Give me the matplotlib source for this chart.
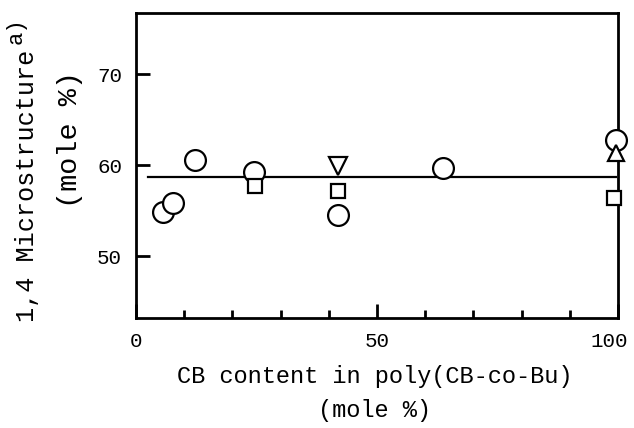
import numpy as np
import matplotlib
matplotlib.use("Agg")
import matplotlib.pyplot as plt
import matplotlib.transforms as mtransforms

plt.rcParams['font.family'] = ['Liberation Mono', 'DejaVu Sans Mono']

# data (x: CB mole %, y: 1,4 content mole %)
circle_x = [5.6, 7.7, 12.2, 24.5, 41.9, 63.7, 99.6]
circle_y = [54.8, 55.8, 60.5, 59.2, 54.5, 59.7, 62.8]
square_x = [24.7, 41.9, 99.2]
square_y = [57.7, 57.1, 56.4]
tri_down_x = [41.9]
tri_down_y = [59.9]
tri_up_x = [99.6]
tri_up_y = [61.3]
fit_x = [2.5, 99.5]
fit_y = [58.7, 58.7]

fig = plt.figure(figsize=(6.34, 4.28), dpi=100)
ax = fig.add_axes([136/634, 1 - 318/428, 482/634, 305/428])

ax.plot(fit_x, fit_y, color='black', lw=1.6, zorder=2)
mk = dict(mfc='white', mec='black', mew=1.6, ls='none', clip_on=False, zorder=5)
ax.plot(circle_x, circle_y, marker='o', ms=15, **mk)
ax.plot(square_x, square_y, marker='s', ms=9.5, **mk)
ax.plot(tri_down_x, tri_down_y, marker='v', ms=13, **mk)
ax.plot(tri_up_x, tri_up_y, marker='^', ms=11, **mk)

ax.set_xlim(0, 100)
ax.set_ylim(43.2, 76.7)
ax.set_xticks([0, 50, 100])
ax.set_xticks(np.arange(10, 100, 10), minor=True)
ax.set_yticks([50, 60, 70])
ax.tick_params(axis='both', which='major', direction='in', labelsize=15,
               width=2, length=10, pad=10)
ax.tick_params(axis='x', which='minor', direction='in', width=2, length=6)
ax.tick_params(top=False, right=False)
for s in ax.spines.values():
    s.set_linewidth(2)

# the "100" label sits a little left of its tick
lbl = ax.get_xticklabels()[-1]
lbl.set_transform(lbl.get_transform() +
                  mtransforms.ScaledTranslation(-9/100, 0, fig.dpi_scale_trans))

fig.text(375/634, 1 - 377/428, 'CB content in poly(CB-co-Bu)', ha='center',
         va='center', fontsize=17)
fig.text(375/634, 1 - 410/428, '(mole %)', ha='center', va='center', fontsize=17)
fig.text(27/634, 1 - 322/428, '1,4 Microstructure', ha='center',
         va='bottom', rotation=90, fontsize=18.2)
fig.text(16/634, 1 - 44/428, 'a)', ha='center', va='bottom', rotation=90,
         fontsize=16)
fig.text(70/634, 1 - 140/428, '(mole %)', ha='center', va='center', rotation=90,
         fontsize=20.5)

fig.savefig('out.png', dpi=100)
